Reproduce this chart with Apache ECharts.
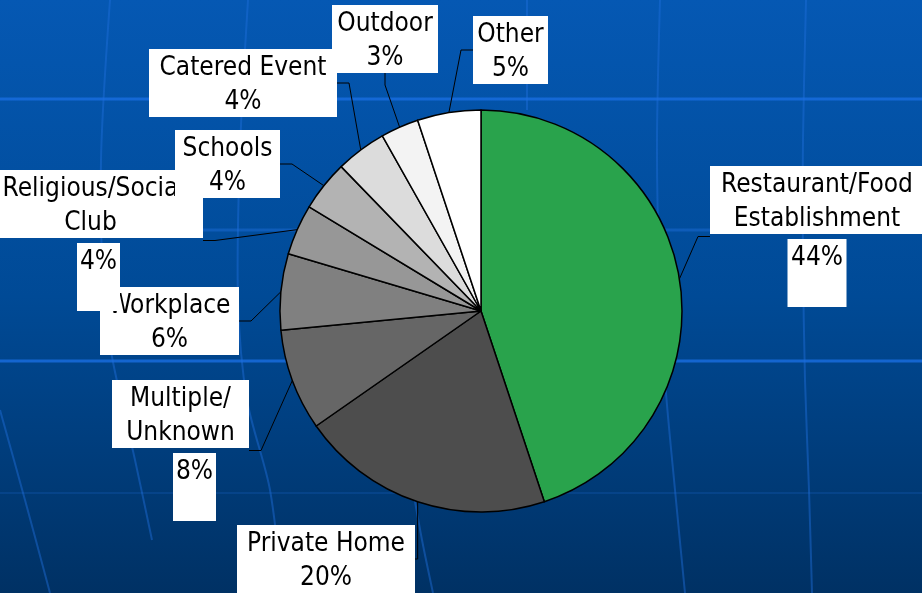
<!DOCTYPE html>
<html>
<head>
<meta charset="utf-8">
<title>Outbreak settings</title>
<script src="https://cdn.jsdelivr.net/npm/echarts@6/dist/echarts.min.js"></script>
<style>
    html, body { margin: 0; padding: 0; }
    #main { width: 922px; height: 593px; }
</style>
</head>
<body>
<div id="main"></div>
<script>
    // data
    var categories = ['Restaurant/Food Establishment', 'Private Home', 'Multiple/ Unknown', 'Workplace',
        'Religious/Social Club', 'Schools', 'Catered Event', 'Outdoor', 'Other'];
    var values = [44, 20, 8, 6, 4, 4, 4, 3, 5];
    // text lines of each label as they are wrapped on the slide
    var labelLines = [
        ['Restaurant/Food', 'Establishment'],
        ['Private Home'],
        ['Multiple/', 'Unknown'],
        ['Workplace'],
        ['Religious/Socia', 'Club'],
        ['Schools'],
        ['Catered Event'],
        ['Outdoor'],
        ['Other']
    ];
    var colors = ['#29a34c', '#4d4d4d', '#666666', '#808080', '#979797', '#b3b3b3', '#dcdcdc', '#f3f3f3', '#ffffff'];

    // label boxes: left, top, box width, percent box width (0 = same box), percent box shift
    var labelBoxes = [
        [710, 166, 214, 59, 0],
        [237, 525, 178, 0, 0],
        [112, 380, 137, 43, 14],
        [100, 287, 139, 0, 0],
        [-22, 170, 225, 43, 8],
        [175, 130, 105, 0, 0],
        [149, 49, 188, 0, 0],
        [332, 5, 106, 0, 0],
        [473, 16, 75, 0, 0]
    ];

    var font = '"DejaVu Sans Condensed", "Liberation Sans", sans-serif';

    function makeLabel(i) {
        var box = labelBoxes[i];
        var txt = labelLines[i].map(function (l) { return '{a|' + l + '}'; });
        if (box[3]) {
            var pct = '{b|' + values[i] + '%}';
            if (box[4] > 0) pct = '{s| }' + pct;
            if (box[4] < 0) pct = pct + '{s| }';
            txt.push('{g| }');
            txt.push(pct);
        } else {
            txt.push('{a|' + values[i] + '%}');
        }
        return {
            formatter: txt.join('\n'),
            rich: {
                a: {
                    width: box[2], height: 29, lineHeight: 34, padding: [5, 0, 0, 0], align: 'center',
                    backgroundColor: '#fff', color: '#000', fontSize: 26, fontFamily: font
                },
                g: {height: 5, lineHeight: 5, fontSize: 2, width: 1},
                s: {width: Math.abs(box[4]) * 2, height: 34, align: 'center', fontSize: 2},
                b: {
                    width: box[3], height: 29, lineHeight: 68, padding: [5, 0, 34, 0], align: 'center',
                    backgroundColor: '#fff', color: '#000', fontSize: 26, fontFamily: font
                }
            }
        };
    }

    var pieData = categories.map(function (c, i) {
        return {
            name: c,
            value: values[i],
            itemStyle: {color: colors[i]},
            label: makeLabel(i)
        };
    });

    // faint globe lines of the slide template
    var decor = [
        [[0, 99], [922, 99]],
        [[0, 361], [922, 361]],
        [[0, 230], [922, 230]],
        [[0, 493], [922, 493]],
        [[110, 0], [101, 160], [104, 300], [113, 362], [135, 460], [152, 540]],
        [[0, 410], [25, 500], [50, 593]],
        [[248, 0], [240, 150], [238, 300], [247, 400], [270, 490], [282, 593]],
        [[527, 0], [527, 110]],
        [[413, 490], [422, 540], [433, 593]],
        [[660, 0], [657, 140], [659, 260], [665, 380], [675, 490], [685, 593]],
        [[806, 0], [803, 140], [803, 260], [805, 380], [809, 490], [812, 593]]
    ];

    var graphics = [{
        type: 'rect', silent: true, z: -10,
        shape: {x: 0, y: 0, width: 922, height: 593},
        style: {
            fill: new echarts.graphic.LinearGradient(0, 0, 0, 1, [
                {offset: 0, color: '#0558b3'},
                {offset: 0.5, color: '#004a96'},
                {offset: 1, color: '#003164'}
            ])
        }
    }];
    decor.forEach(function (pts, k) {
        var stroke = k < 2 ? 'rgba(25,110,225,0.8)' : (k === 3 ? 'rgba(30,110,220,0.2)' : 'rgba(30,110,220,0.45)');
        graphics.push({
            type: 'polyline', silent: true, z: -9,
            shape: {points: pts, smooth: 0.3},
            style: {stroke: stroke, lineWidth: k < 3 ? 3 : 2, fill: null}
        });
    });

    var myChart = echarts.init(document.getElementById('main'));
    myChart.setOption({
        animation: false,
        graphic: graphics,
        series: [{
            type: 'pie',
            center: [481, 311],
            radius: 201,
            startAngle: 90,
            clockwise: true,
            avoidLabelOverlap: false,
            data: pieData,
            itemStyle: {borderColor: '#000', borderWidth: 1.5},
            label: {show: true, position: 'outside', color: '#000'},
            labelLine: {
                show: true, length: 10, length2: 12, smooth: false,
                lineStyle: {color: '#000', width: 1}
            },
            labelLayout: function (params) {
                var box = labelBoxes[params.dataIndex];
                return {x: box[0], y: box[1], align: 'left', verticalAlign: 'top'};
            },
            emphasis: {disabled: true}
        }]
    });
</script>
</body>
</html>
